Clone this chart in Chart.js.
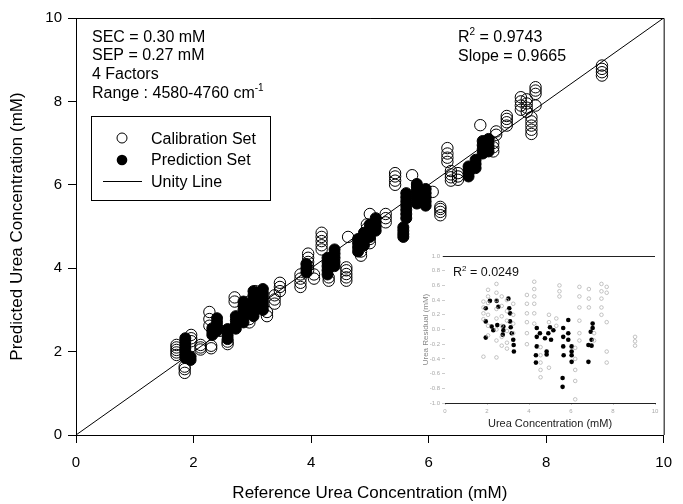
<!DOCTYPE html>
<html>
<head>
<meta charset="utf-8">
<script src="https://cdn.jsdelivr.net/npm/chart.js@4.4.0/dist/chart.umd.min.js"></script>
<style>
  body { margin: 0; background: #fff; }
  #wrap { position: relative; width: 683px; height: 504px; }
  #main { position: absolute; left: 0; top: 0; }
  #inset { position: absolute; left: 415px; top: 245px; }
</style>
</head>
<body>
<div id="wrap">
  <canvas id="main" width="683" height="504"></canvas>
  <canvas id="inset" width="250" height="190"></canvas>
</div>
<script>
// calibration set (open circles): reference vs predicted, mM
const calX = [
  1.71,1.71,1.71,1.71,1.71, 1.85,1.85,1.85, 1.96,1.96,1.96, 2.12,2.12,2.12,
  2.27,2.27,2.27, 2.30,2.30, 2.45, 2.58,2.58, 2.70,2.70, 2.95,2.95,2.95,2.95,
  3.05,3.05, 3.25,3.25, 3.38,3.38,3.38, 3.47,3.47,3.47, 3.82,3.82,3.82,3.82,
  3.95,3.95,3.95,3.95,3.95, 4.05,4.05, 4.18,4.18,4.18,4.18,4.18, 4.30,4.30,
  4.60,4.60,4.60,4.60,4.60, 4.63, 4.85,4.85, 4.95,4.95,4.95, 5.00,5.00,5.00,
  5.05, 5.27,5.27,5.27, 5.43,5.43,5.43,5.43, 5.72, 5.90,5.90, 6.07,
  6.20,6.20,6.20,6.20, 6.32,6.32,6.32,6.32, 6.38,6.38,6.38,6.38, 6.50,6.50,6.50,
  6.88, 6.95,6.95, 7.10,7.10,7.10, 7.15,7.15, 7.33,7.33,7.33,7.33,
  7.57,7.57,7.57,7.57, 7.67,7.67,7.67,7.67, 7.75,7.75,7.75,7.75,7.75,
  7.82,7.82,7.82,7.82, 8.95,8.95,8.95,8.95
];
const calY = [
  1.92,1.98,2.04,2.10,2.16, 1.49,1.58,1.64, 2.25,2.32,2.40, 2.05,2.10,2.16,
  2.62,2.78,2.95, 2.08,2.14, 2.50, 2.18,2.24, 3.20,3.30, 2.70,2.78,3.10,3.20,
  3.35,3.45, 2.85,2.95, 3.15,3.25,3.35, 3.45,3.55,3.65, 3.55,3.65,3.75,3.85,
  3.95,4.05,4.15,4.25,4.35, 3.75,3.85, 4.45,4.55,4.65,4.75,4.85, 3.70,3.78,
  3.70,3.78,3.86,3.95,4.02, 4.75, 4.30,4.40, 4.85,4.95,5.05, 4.60,4.70,5.30,
  5.05, 5.10,5.20,5.30, 6.00,6.10,6.20,6.28, 6.23, 5.75,5.85, 5.83,
  5.27,5.35,5.42,5.47, 6.55,6.65,6.75,6.88, 6.10,6.18,6.25,6.33, 6.12,6.20,6.28,
  7.43, 6.80,6.90, 6.80,6.90,7.00, 7.20,7.28, 7.42,7.50,7.58,7.65,
  7.80,7.90,8.00,8.10, 7.75,7.85,7.95,8.05, 7.22,7.32,7.42,7.52,7.62,
  7.90,8.18,8.26,8.34, 8.62,8.70,8.78,8.86
];

// prediction set (filled circles)
const predX = [
  1.86,1.86,1.86,1.86,1.86,1.86,1.86, 1.95,1.95, 2.32,2.32,2.32,
  2.40,2.40,2.40,2.40, 2.58,2.58,2.58,2.58, 2.72,2.72,2.72,2.72,
  2.85,2.85,2.85,2.85,2.85,2.85, 3.02,3.02,3.02,3.02,3.02,3.02,3.02,
  3.18,3.18,3.18,3.18,3.18,3.18, 3.92,3.92,3.92, 4.28,4.28,4.28,4.28,4.28,
  4.40,4.40,4.40,4.40,4.40, 4.80,4.80,4.80,4.80, 4.90,4.90,4.90,4.90,
  5.00,5.00,5.00,5.00, 5.10,5.10,5.10,5.10, 5.57,5.57,5.57,5.57,
  5.62,5.62,5.62,5.62,5.62,5.62,5.62, 5.80,5.80,5.80,5.80,5.80,5.80,
  5.95,5.95,5.95,5.95,5.95, 6.68,6.68,6.68,6.68, 6.80,6.80,6.80,
  6.92,6.92,6.92,6.92, 7.02,7.02,7.02,7.02
];
const predY = [
  1.85,1.92,2.00,2.08,2.16,2.24,2.32, 1.80,1.88, 2.40,2.48,2.56,
  2.50,2.60,2.70,2.80, 2.30,2.38,2.46,2.54, 2.55,2.65,2.75,2.85,
  2.70,2.80,2.90,3.00,3.10,3.20, 2.85,2.95,3.05,3.15,3.25,3.35,3.45,
  3.00,3.10,3.20,3.30,3.40,3.50, 3.90,4.00,4.10, 3.85,3.95,4.05,4.15,4.25,
  4.05,4.15,4.25,4.35,4.45, 4.40,4.50,4.60,4.70, 4.55,4.65,4.75,4.85,
  4.75,4.85,4.95,5.05, 4.90,5.00,5.10,5.20, 4.75,4.82,4.90,4.98,
  5.20,5.30,5.40,5.50,5.60,5.70,5.80, 5.55,5.65,5.75,5.85,5.95,6.02,
  5.50,5.60,5.70,5.80,5.90, 6.20,6.28,6.36,6.44, 6.40,6.50,6.60,
  6.75,6.85,6.95,7.05, 6.80,6.90,7.00,7.10
];

const unityX = [0, 10];
const unityY = [0, 10];
const mainTicks = [0, 2, 4, 6, 8, 10];

// inset: residuals vs urea concentration
const resCalX = [
  1.83,1.83,1.83,1.83,1.83, 2.05,2.05,2.05,2.05,2.05,2.05,
  2.45,2.45,2.45,2.45,2.45,2.45,2.45,2.45, 2.70,2.70,2.70,2.70,2.70,2.70,
  2.95,2.95,2.95,2.95,2.95,2.95, 3.25,3.25,3.25,3.25,
  3.90,3.90,3.90,3.90,3.90,3.90, 4.25,4.25,4.25,4.25,4.25,4.25,
  4.55,4.55,4.55,4.55,4.55, 4.95,4.95,4.95, 5.30,5.30, 5.45,5.45,5.45,
  6.20,6.20,6.20,6.20,6.20, 6.40,6.40,6.40,6.40,6.40,6.40, 6.85,6.85,6.85,
  7.10,7.10, 7.45,7.45,7.45,7.45,7.45, 7.70,7.70,7.70,7.70,7.70, 9.05,9.05,9.05
];
const resCalY = [
  0.38,0.30,0.22,0.14,-0.37, 0.54,0.45,0.36,0.20,0.05,-0.08,
  0.62,0.50,0.40,0.28,0.15,0.00,-0.15,-0.38, 0.45,0.32,0.18,0.05,-0.10,-0.22,
  0.40,0.25,0.12,-0.02,-0.18,-0.26, 0.35,0.20,0.08,-0.05,
  0.47,0.35,0.22,0.10,-0.05,-0.20, 0.65,0.55,0.45,0.35,0.22,0.08,
  -0.24,-0.35,-0.45,-0.55,-0.65, 0.20,0.10,-0.52, 0.15,0.05, 0.60,0.52,0.45,
  -0.25,-0.40,-0.55,-0.70,-0.95, 0.58,0.45,0.30,0.12,-0.05,-0.15, 0.55,0.42,0.30,
  -0.05,-0.15, 0.62,0.52,0.42,0.30,0.20, 0.58,0.50,0.10,-0.30,-0.45, -0.10,-0.16,-0.22
];
const resPredX = [
  1.94,1.94,1.94,2.14,2.22,2.30,2.46,2.49,2.54,2.75,2.78,2.78,
  3.02,3.06,3.10,3.10,3.13,3.18,3.25,3.27,3.28,
  4.33,4.33,4.37,4.37,4.37,4.52,4.76,4.84,4.84,4.92,5.00,5.05,5.16,
  5.60,5.60,5.63,5.63,5.63,5.65,5.87,5.87,5.87,6.03,6.03,6.03,6.03,
  6.83,6.83,6.94,6.98,6.98,7.03,7.03
];
const resPredY = [
  0.29,0.11,-0.11,0.39,0.04,-0.01,0.39,0.06,0.31,-0.07,0.04,-0.01,
  0.42,0.29,0.22,0.11,0.03,-0.05,-0.14,-0.21,-0.30,
  -0.35,-0.45,0.02,-0.10,-0.23,-0.05,-0.12,-0.30,-0.34,-0.05,0.03,-0.14,-0.01,
  -0.66,-0.78,0.02,-0.10,-0.23,-0.35,0.13,-0.05,-0.14,-0.23,-0.30,-0.35,-0.44,
  -0.44,-0.21,-0.03,-0.14,-0.22,0.02,0.08
];
const insetXTicks = [0, 2, 4, 6, 8, 10];
const insetYTicks = [-1.0, -0.8, -0.6, -0.4, -0.2, 0.0, 0.2, 0.4, 0.6, 0.8, 1.0];

const pts = (xs, ys) => xs.map((x, i) => ({x: x, y: ys[i]}));
const FONT = "'Liberation Sans', Arial, Helvetica, sans-serif";
Chart.defaults.font.family = FONT;
Chart.defaults.color = '#000';

// writes text with a raised small part, e.g. R^2 or cm^-1
function supText(ctx, x, y, parts, size) {
  let cx = x;
  parts.forEach(p => {
    const s = p.sup ? Math.round(size * 0.62) : size;
    ctx.font = s + 'px ' + FONT;
    ctx.fillText(p.t, cx, p.sup ? y - size * 0.42 : y);
    cx += ctx.measureText(p.t).width;
  });
}

const mainDecor = {
  id: 'mainDecor',
  afterDraw(chart) {
    const {ctx, chartArea: a} = chart;
    ctx.save();
    ctx.strokeStyle = '#000';
    ctx.lineWidth = 1;
    ctx.beginPath();
    ctx.moveTo(a.left, a.top + 0.5);
    ctx.lineTo(a.right + 0.5, a.top + 0.5);
    ctx.lineTo(a.right + 0.5, a.bottom);
    ctx.stroke();

    ctx.fillStyle = '#000';
    ctx.textBaseline = 'alphabetic';
    ctx.textAlign = 'left';
    ctx.font = '16px ' + FONT;
    ctx.fillText('SEC = 0.30 mM', 92, 41.5);
    ctx.fillText('SEP = 0.27 mM', 92, 60);
    ctx.fillText('4 Factors', 92, 78.5);
    supText(ctx, 92, 97.5, [{t: 'Range : 4580-4760 cm'}, {t: '-1', sup: true}], 16);
    supText(ctx, 458, 41.5, [{t: 'R'}, {t: '2', sup: true}, {t: ' = 0.9743'}], 16);
    ctx.font = '16px ' + FONT;
    ctx.fillText('Slope = 0.9665', 458, 61);

    // legend box
    ctx.strokeRect(91.5, 116.5, 179, 84);
    ctx.beginPath();
    ctx.arc(122, 138, 5, 0, Math.PI * 2);
    ctx.stroke();
    ctx.beginPath();
    ctx.arc(122, 160, 5.3, 0, Math.PI * 2);
    ctx.fill();
    ctx.beginPath();
    ctx.moveTo(103, 181.5);
    ctx.lineTo(142, 181.5);
    ctx.stroke();
    ctx.font = '16px ' + FONT;
    ctx.fillText('Calibration Set', 151, 143.5);
    ctx.fillText('Prediction Set', 151, 165);
    ctx.fillText('Unity Line', 151, 186.5);
    ctx.restore();
  }
};

new Chart(document.getElementById('main'), {
  type: 'scatter',
  data: {
    datasets: [
      {
        label: 'Calibration Set',
        data: pts(calX, calY),
        pointRadius: 5.7,
        borderColor: '#000',
        borderWidth: 1,
        backgroundColor: 'rgba(255,255,255,0)'
      },
      {
        label: 'Prediction Set',
        data: pts(predX, predY),
        pointRadius: 5.5,
        borderColor: '#000',
        borderWidth: 1,
        backgroundColor: '#000'
      },
      {
        type: 'line',
        label: 'Unity Line',
        data: pts(unityX, unityY),
        borderColor: '#000',
        borderWidth: 1,
        pointRadius: 0,
        fill: false
      }
    ]
  },
  options: {
    responsive: false,
    animation: false,
    events: [],
    layout: {padding: {top: 18, right: 11, left: 0, bottom: 0}},
    plugins: {legend: {display: false}, tooltip: {enabled: false}},
    scales: {
      x: {
        type: 'linear',
        min: 0, max: 10,
        afterBuildTicks: s => { s.ticks = mainTicks.map(v => ({value: v})); },
        afterFit: s => { s.height = 69; },
        ticks: {font: {size: 15}, padding: 11, color: '#000'},
        grid: {drawOnChartArea: false, tickLength: 8, color: '#000'},
        border: {color: '#000', width: 1},
        title: {display: true, text: 'Reference Urea Concentration (mM)', font: {size: 17}, padding: {bottom: 0}, color: '#000'}
      },
      y: {
        type: 'linear',
        min: 0, max: 10,
        afterBuildTicks: s => { s.ticks = mainTicks.map(v => ({value: v})); },
        afterFit: s => { s.width = 76; },
        ticks: {font: {size: 15}, padding: 6, color: '#000'},
        grid: {drawOnChartArea: false, tickLength: 8, color: '#000'},
        border: {color: '#000', width: 1},
        title: {display: true, text: 'Predicted Urea Concentration (mM)', font: {size: 17}, padding: {top: 7}, color: '#000'}
      }
    }
  },
  plugins: [mainDecor]
});

const insetDecor = {
  id: 'insetDecor',
  afterDraw(chart) {
    const {ctx, chartArea: a} = chart;
    ctx.save();
    ctx.strokeStyle = '#222';
    ctx.lineWidth = 1;
    ctx.beginPath();
    ctx.moveTo(a.left - 2, a.top + 0.5);
    ctx.lineTo(a.right, a.top + 0.5);
    ctx.stroke();
    ctx.fillStyle = '#111';
    supText(ctx, 38, 31, [{t: 'R'}, {t: '2', sup: true}, {t: ' = 0.0249'}], 12.5);
    ctx.restore();
  }
};

new Chart(document.getElementById('inset'), {
  type: 'scatter',
  data: {
    datasets: [
      {
        label: 'Calibration residual',
        data: pts(resCalX, resCalY),
        pointRadius: 1.8,
        borderColor: '#aaa',
        borderWidth: 0.7,
        backgroundColor: 'rgba(255,255,255,0)'
      },
      {
        label: 'Prediction residual',
        data: pts(resPredX, resPredY),
        pointRadius: 2.3,
        borderWidth: 0,
        backgroundColor: '#000'
      }
    ]
  },
  options: {
    responsive: false,
    animation: false,
    events: [],
    layout: {padding: {top: 11, right: 10, left: 0, bottom: 0}},
    plugins: {legend: {display: false}, tooltip: {enabled: false}},
    scales: {
      x: {
        type: 'linear',
        min: 0, max: 10,
        afterBuildTicks: s => { s.ticks = insetXTicks.map(v => ({value: v})); },
        afterFit: s => { s.height = 32; },
        ticks: {font: {size: 6}, padding: 3, color: '#aaa'},
        grid: {drawOnChartArea: false, tickLength: 2, color: '#ccc'},
        border: {color: '#222', width: 1},
        title: {display: true, text: 'Urea Concentration (mM)', font: {size: 11}, padding: {bottom: 4}, color: '#222'}
      },
      y: {
        type: 'linear',
        min: -1, max: 1,
        afterBuildTicks: s => { s.ticks = insetYTicks.map(v => ({value: v})); },
        afterFit: s => { s.width = 30; },
        ticks: {font: {size: 6}, padding: 2, color: '#aaa', callback: v => v.toFixed(1)},
        grid: {drawOnChartArea: false, tickLength: 3, color: '#ccc'},
        border: {display: false},
        title: {display: true, text: 'Urea Residual (mM)', font: {size: 8}, padding: {top: 6}, color: '#888'}
      }
    }
  },
  plugins: [insetDecor]
});
</script>
</body>
</html>
